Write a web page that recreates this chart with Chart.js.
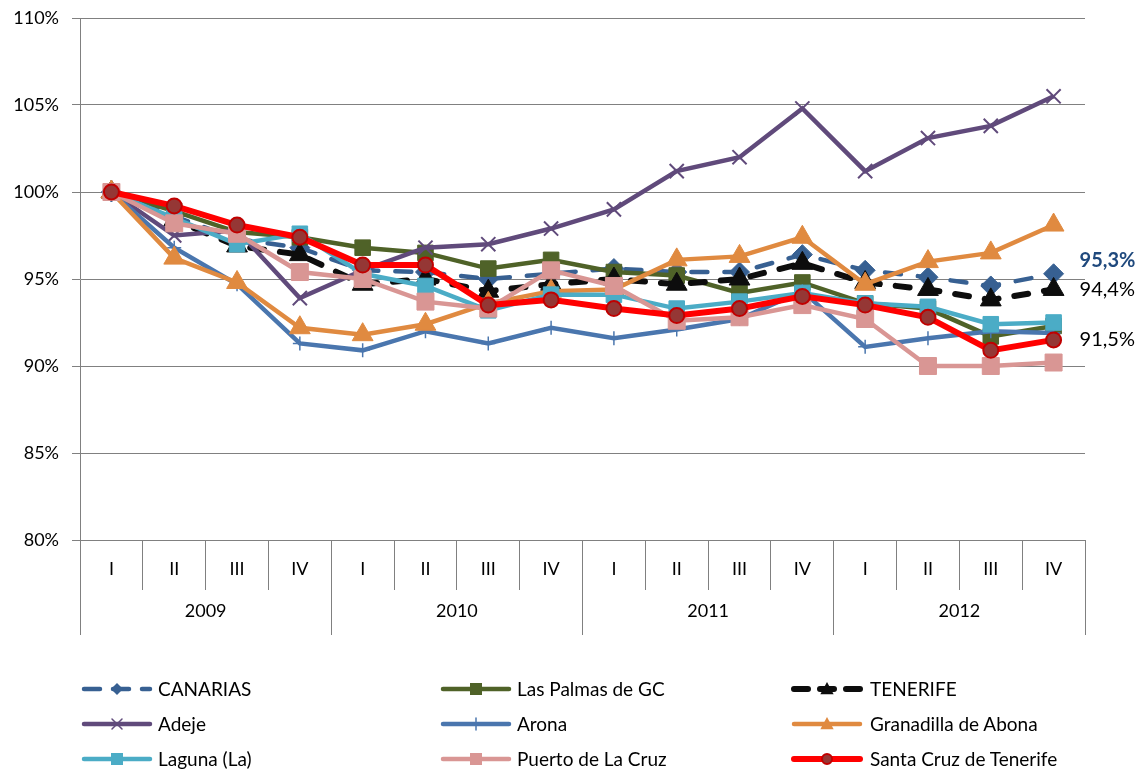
<!DOCTYPE html>
<html lang="es">
<head>
    <meta charset="UTF-8">
    <meta name="viewport" content="width=device-width, initial-scale=1.0">
    <title>Evolución trimestral (I 2009 = 100%)</title>
    <script src="https://cdn.jsdelivr.net/npm/chart.js"></script>
    <style>
        html, body {
            margin: 0;
            padding: 0;
            background: #fff;
        }

        #wrap {
            position: relative;
            width: 1148px;
            height: 774px;
        }

        #grafico, #muestras {
            position: absolute;
            left: 0;
            top: 0;
        }

        #muestras {
            pointer-events: none;
        }

        .leyenda {
            position: absolute;
            font: 19px Lato, sans-serif;
            line-height: 22px;
            color: #000;
            white-space: nowrap;
        }
    </style>
</head>
<body>
    <div id="wrap">
        <canvas id="grafico" width="1148" height="774"></canvas>
        <canvas id="muestras" width="1148" height="774"></canvas>
        <div id="leyenda"></div>
    </div>

    <script>
        // etiquetas del eje
        const trimestres = ['I', 'II', 'III', 'IV', 'I', 'II', 'III', 'IV', 'I', 'II', 'III', 'IV', 'I', 'II', 'III', 'IV'];
        const anios = ['2009', '2010', '2011', '2012'];

        // series (índice, I-2009 = 100%)
        const canarias   = [100, 98.6, 97.3, 96.8, 95.5, 95.4, 95.0, 95.3, 95.6, 95.4, 95.4, 96.4, 95.5, 95.1, 94.6, 95.3];
        const lasPalmas  = [100, 98.9, 97.7, 97.4, 96.8, 96.5, 95.6, 96.1, 95.4, 95.2, 94.2, 94.8, 93.6, 93.3, 91.7, 92.3];
        const tenerife   = [100, 98.4, 96.9, 96.4, 94.7, 95.0, 94.3, 94.7, 95.0, 94.7, 95.0, 95.9, 94.8, 94.4, 93.8, 94.4];
        const adeje      = [100, 97.5, 97.8, 93.9, 95.5, 96.8, 97.0, 97.9, 99.0, 101.2, 102.0, 104.8, 101.2, 103.1, 103.8, 105.5];
        const arona      = [100, 96.8, 94.7, 91.3, 90.9, 92.0, 91.3, 92.2, 91.6, 92.1, 92.7, 94.3, 91.1, 91.6, 92.0, 91.9];
        const granadilla = [100, 96.2, 94.8, 92.2, 91.8, 92.4, 93.6, 94.3, 94.4, 96.1, 96.3, 97.4, 94.7, 96.0, 96.5, 98.1];
        const laguna     = [100, 98.5, 97.0, 97.6, 95.3, 94.6, 93.2, 94.1, 94.1, 93.3, 93.7, 94.2, 93.6, 93.4, 92.4, 92.5];
        const puerto     = [100, 98.2, 97.6, 95.4, 95.0, 93.7, 93.3, 95.5, 94.6, 92.6, 92.8, 93.5, 92.7, 90.0, 90.0, 90.2];
        const santaCruz  = [100, 99.2, 98.1, 97.4, 95.8, 95.8, 93.5, 93.8, 93.3, 92.9, 93.3, 94.0, 93.5, 92.8, 90.9, 91.5];

        const FUENTE = 'Lato, sans-serif';
        const GRIS = '#808080';

        function serie(label, data, color, extra) {
            return Object.assign({
                label: label,
                data: data,
                borderColor: color,
                backgroundColor: color,
                pointBackgroundColor: color,
                pointBorderColor: color,
                borderWidth: 4.5,
                pointBorderWidth: 1,
                pointRadius: 9,
                pointHoverRadius: 9,
                tension: 0,
                fill: false
            }, extra);
        }

        const series = [
            serie('CANARIAS', canarias, '#376092', {
                pointStyle: 'rectRot', pointRadius: 10, borderWidth: 4.5,
                borderDash: [16, 17], borderCapStyle: 'round',
                etiqueta: { color: '#1f497d', negrita: true, dy: -13 }
            }),
            serie('Las Palmas de GC', lasPalmas, '#4f6228', { pointStyle: 'rect', pointRadius: 11 }),
            serie('TENERIFE', tenerife, '#0d0d0d', {
                pointStyle: 'triangle', pointRadius: 12, borderWidth: 6,
                borderDash: [14, 16], borderCapStyle: 'round',
                etiqueta: { color: '#000', negrita: false, dy: 0 }
            }),
            serie('Adeje', adeje, '#604a7b', { pointStyle: 'crossRot', pointRadius: 10, pointBorderWidth: 2 }),
            serie('Arona', arona, '#4a76ae', { pointStyle: 'cross', pointRadius: 7, pointBorderWidth: 1.5 }),
            serie('Granadilla de Abona', granadilla, '#e08a40', { pointStyle: 'triangle', pointRadius: 12 }),
            serie('Laguna (La)', laguna, '#4bacc6', { pointStyle: 'rect', pointRadius: 11 }),
            serie('Puerto de La Cruz', puerto, '#d99694', { pointStyle: 'rect', pointRadius: 12 }),
            serie('Santa Cruz de Tenerife', santaCruz, '#ff0000', {
                pointStyle: 'circle', pointRadius: 7.5, pointBorderWidth: 2, borderWidth: 6,
                pointBackgroundColor: '#953735', pointBorderColor: '#c00000',
                etiqueta: { color: '#000', negrita: false, dy: 0 }
            })
        ];
        // la primera serie queda debajo, la última encima
        series.forEach((s, i) => { s.order = series.length - i; });

        // etiquetas del último trimestre (95,3% ...)
        const etiquetasFinales = {
            id: 'etiquetasFinales',
            afterDatasetsDraw(chart) {
                const ctx = chart.ctx;
                chart.data.datasets.forEach((ds, i) => {
                    if (!ds.etiqueta) return;
                    const meta = chart.getDatasetMeta(i);
                    const punto = meta.data[meta.data.length - 1];
                    const valor = ds.data[ds.data.length - 1];
                    ctx.save();
                    ctx.font = (ds.etiqueta.negrita ? 'bold ' : '') + '20px ' + FUENTE;
                    ctx.fillStyle = ds.etiqueta.color;
                    ctx.textAlign = 'left';
                    ctx.textBaseline = 'middle';
                    ctx.fillText(valor.toFixed(1).replace('.', ',') + '%', punto.x + 26, punto.y + ds.etiqueta.dy);
                    ctx.restore();
                });
            }
        };

        const fuenteEje = { family: FUENTE, size: 18 };

        new Chart(document.getElementById('grafico'), {
            type: 'line',
            data: {
                labels: trimestres,
                datasets: series
            },
            options: {
                responsive: false,
                animation: false,
                layout: {
                    padding: { left: 0, right: 63, top: 18, bottom: 134 }
                },
                plugins: {
                    legend: { display: false },
                    tooltip: { enabled: false }
                },
                scales: {
                    x: {
                        type: 'category',
                        position: 'bottom',
                        offset: true,
                        grid: { offset: true, drawOnChartArea: false, tickLength: 50, color: GRIS },
                        border: { display: true, color: GRIS },
                        ticks: { padding: -32, color: '#000', font: fuenteEje, autoSkip: false, maxRotation: 0 },
                        afterFit(escala) { escala.height = 50; }
                    },
                    anios: {
                        type: 'category',
                        labels: anios,
                        position: 'bottom',
                        offset: true,
                        weight: 1,
                        grid: { offset: true, drawOnChartArea: false, tickLength: 45, color: GRIS },
                        border: { display: false },
                        ticks: { padding: -35, color: '#000', font: fuenteEje, maxRotation: 0 },
                        afterFit(escala) { escala.height = 50; }
                    },
                    y: {
                        min: 80,
                        max: 110,
                        grid: { color: GRIS, tickLength: 8 },
                        border: { color: GRIS },
                        ticks: {
                            stepSize: 5,
                            padding: 13,
                            color: '#000',
                            font: fuenteEje,
                            callback: v => v + '%'
                        },
                        afterFit(escala) {
                            escala.width = 80;
                            escala.paddingTop = 0;
                            escala.paddingBottom = 0;
                        }
                    }
                }
            },
            plugins: [etiquetasFinales]
        });

        // leyenda en tres columnas
        const columnas = [{ linea: 82, texto: 158 }, { linea: 441, texto: 517 }, { linea: 792, texto: 870 }];
        const filas = [689, 724, 759];
        const tamMuestra = { rectRot: 6, rect: 6, triangle: 7, crossRot: 5, cross: 6, circle: 5 };

        function marcador(ctx, estilo, x, y, r) {
            ctx.beginPath();
            if (estilo === 'circle') {
                ctx.arc(x, y, r, 0, Math.PI * 2);
                ctx.fill();
                ctx.stroke();
            } else if (estilo === 'rect') {
                ctx.rect(x - r, y - r, 2 * r, 2 * r);
                ctx.fill();
            } else if (estilo === 'rectRot') {
                ctx.moveTo(x, y - r);
                ctx.lineTo(x + r, y);
                ctx.lineTo(x, y + r);
                ctx.lineTo(x - r, y);
                ctx.closePath();
                ctx.fill();
            } else if (estilo === 'triangle') {
                ctx.moveTo(x, y - r);
                ctx.lineTo(x + r * 0.95, y + r * 0.75);
                ctx.lineTo(x - r * 0.95, y + r * 0.75);
                ctx.closePath();
                ctx.fill();
            } else if (estilo === 'crossRot') {
                ctx.moveTo(x - r, y - r); ctx.lineTo(x + r, y + r);
                ctx.moveTo(x + r, y - r); ctx.lineTo(x - r, y + r);
                ctx.stroke();
            } else if (estilo === 'cross') {
                ctx.moveTo(x, y - r); ctx.lineTo(x, y + r);
                ctx.stroke();
            }
        }

        const cm = document.getElementById('muestras').getContext('2d');
        const cajaLeyenda = document.getElementById('leyenda');
        series.forEach((s, i) => {
            const col = columnas[i % 3];
            const y = filas[Math.floor(i / 3)];
            const x0 = col.linea, x1 = col.linea + 70;

            cm.save();
            cm.strokeStyle = s.borderColor;
            cm.lineWidth = s.borderWidth;
            cm.lineCap = 'round';
            cm.setLineDash(s.borderDash ? [s.borderDash[0], s.borderDash[1] - 4] : []);
            cm.beginPath();
            cm.moveTo(x0 + 2, y);
            cm.lineTo(x1 - 2, y);
            cm.stroke();
            cm.setLineDash([]);
            cm.fillStyle = s.pointBackgroundColor;
            cm.strokeStyle = s.pointBorderColor;
            cm.lineWidth = s.pointStyle === 'circle' ? 2 : 1.5;
            marcador(cm, s.pointStyle, (x0 + x1) / 2, y, tamMuestra[s.pointStyle]);
            cm.restore();

            const et = document.createElement('div');
            et.className = 'leyenda';
            et.textContent = s.label;
            et.style.left = col.texto + 'px';
            et.style.top = (y - 11) + 'px';
            cajaLeyenda.appendChild(et);
        });
    </script>
</body>
</html>
